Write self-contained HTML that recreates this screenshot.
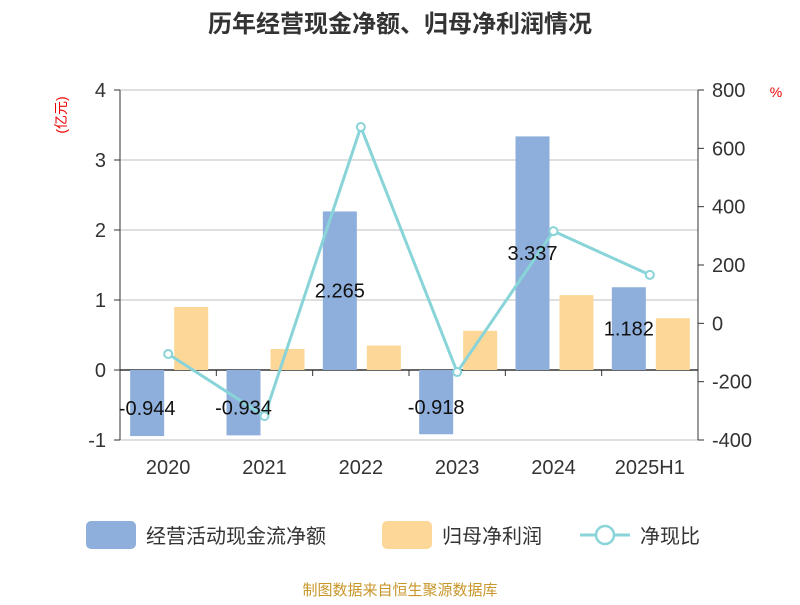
<!DOCTYPE html>
<html><head><meta charset="utf-8"><style>
body{margin:0;background:#fff;}
svg text{font-family:"Liberation Sans","Noto Sans CJK SC",sans-serif;}
</style></head><body>
<svg id="c" width="800" height="600" xmlns="http://www.w3.org/2000/svg">
<text x="400" y="32" text-anchor="middle" font-size="24" font-weight="bold" fill="#333">历年经营现金净额、归母净利润情况</text>
<text transform="translate(66,115) rotate(-90)" text-anchor="middle" font-size="14" fill="#e00">(亿元)</text>
<text x="776" y="97" text-anchor="middle" font-size="14" fill="#e00">%</text>
<g id="grid"></g><g id="bars"></g><g id="line"></g><g id="labels"></g>
<g>
<rect x="86" y="521" width="50" height="28" rx="5" fill="#8eaedb"/>
<text x="146" y="543" font-size="20" fill="#333">经营活动现金流净额</text>
<rect x="382" y="521" width="50" height="28" rx="5" fill="#fdd797"/>
<text x="442" y="543" font-size="20" fill="#333">归母净利润</text>
<line x1="580" y1="535" x2="630" y2="535" stroke="#88d4d8" stroke-width="3"/>
<circle cx="605" cy="535" r="9" fill="#fff" stroke="#88d4d8" stroke-width="2.5"/>
<text x="640" y="543" font-size="20" fill="#333">净现比</text>
</g>
<text x="400" y="595" text-anchor="middle" font-size="15" fill="#c8962a">制图数据来自恒生聚源数据库</text>
</svg>
<script>
const categories=["2020","2021","2022","2023","2024","2025H1"];
const ocf=[-0.944,-0.934,2.265,-0.918,3.337,1.182];
const profit=[0.9,0.3,0.35,0.56,1.07,0.74];
const ratio=[-105,-318,673,-167,316,166];
const leftTicks=[-1,0,1,2,3,4];
const rightTicks=[-400,-200,0,200,400,600,800];
const NS="http://www.w3.org/2000/svg";
const L=120,R=698,T=90,B=440;
const yL=v=>T+(4-v)*(B-T)/5;
const yR=v=>T+(800-v)*(B-T)/1200;
const bw=(R-L)/categories.length;
const xc=i=>L+bw*(i+0.5);
function mk(tag,attrs,parent,txt){const e=document.createElementNS(NS,tag);for(const k in attrs)e.setAttribute(k,attrs[k]);if(txt!==undefined)e.textContent=txt;document.getElementById(parent).appendChild(e);return e;}
leftTicks.forEach(t=>{
  const g=mk('line',{x1:L,x2:R,y1:yL(t),y2:yL(t),stroke:t===0?'#333':'#ccc','stroke-width':t===0?1.5:1.2},'grid');
  
  
  const tk=mk('line',{x1:L-6,x2:L,y1:yL(t),y2:yL(t),stroke:'#333'},'grid');
  
  
  const tx=mk('text',{x:L-14,y:yL(t)+7,'text-anchor':'end','font-size':20,fill:'#333'},'grid',t);
  
  
});
rightTicks.forEach(t=>{
  const tk=mk('line',{x1:R,x2:R+6,y1:yR(t),y2:yR(t),stroke:'#333'},'grid');
  
  
  const tx=mk('text',{x:R+14,y:yR(t)+7,'font-size':20,fill:'#333'},'grid',t);
  
  
});
let a=mk('line',{x1:L,x2:L,y1:T,y2:B,stroke:'#333'},'grid');


a=mk('line',{x1:R,x2:R,y1:T,y2:B,stroke:'#333'},'grid');


categories.forEach((c,i)=>{
  if(i>0){const tk=mk('line',{x1:L+bw*i,x2:L+bw*i,y1:yL(0),y2:yL(0)+6,stroke:'#333'},'grid');
  
  }
  const tx=mk('text',{x:xc(i),y:474,'text-anchor':'middle','font-size':20,fill:'#333'},'grid',c);
  
  
  const w=34;
  const y0=yL(0),y1=yL(ocf[i]);
  const b1=mk('rect',{x:xc(i)-38,y:Math.min(y0,y1),width:w,height:Math.abs(y1-y0),fill:'#8eaedb'},'bars');
  
  
  const y2=yL(profit[i]);
  const b2=mk('rect',{x:xc(i)+6,y:Math.min(y0,y2),width:w,height:Math.abs(y2-y0),fill:'#fdd797'},'bars');
  
  
  const ly=ocf[i]>=0?yL(ocf[i]/2)+7:yL(ocf[i]/2)+12;
  const lb=mk('text',{x:xc(i)-21,y:ly,'text-anchor':'middle','font-size':20,fill:'#111'},'labels',ocf[i]);
  
  
});
const pts=ratio.map((v,i)=>xc(i)+','+yR(v)).join(' ');
const pl=mk('polyline',{points:pts,fill:'none',stroke:'#88d4d8','stroke-width':3},'line');


ratio.forEach((v,i)=>{
  const p=mk('circle',{cx:xc(i),cy:yR(v),r:4,fill:'#fff',stroke:'#88d4d8','stroke-width':2},'line');
  
  
});
</script>
</body></html>
